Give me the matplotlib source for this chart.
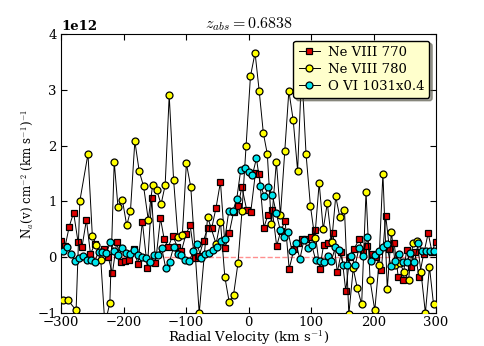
import matplotlib
matplotlib.use("Agg")
import matplotlib.pyplot as plt
import numpy as np

plt.rcParams['font.family'] = ['DejaVu Serif']
plt.rcParams['mathtext.fontset'] = 'cm'

# Ne VIII 770 (units of 1e12)
v_ne770 = [-300, -293.5, -287, -280, -273, -266.5, -259.5, -253, -246, -238.5, -231, -224.5,
           -218, -211, -204.5, -198, -191, -184, -177, -170, -162, -155, -149, -141, -135,
           -128.5, -121.5, -114, -107.5, -100, -93.5, -86, -79, -72, -65.5, -59, -52, -45,
           -37.5, -31, -24, -17, -10.7, -3, 3.5, 11, 17, 24.5, 31, 38, 45, 51.5, 58.5, 65,
           72.5, 79, 85.5, 92.5, 99.5, 106, 114, 120, 127, 135, 142, 148.5, 155.5, 162, 169,
           177, 183, 190, 197, 204, 212.5, 219.5, 225.5, 233, 239.5, 246.5, 253, 259.5, 266,
           273, 280, 287.5, 293.5, 299.5]
n_ne770 = [0.30, 0.20, 0.55, 0.80, 0.28, 0.19, 0.67, 0.06, 0.24, 0.10, 0.15, 0.00,
           -0.29, 0.27, -0.08, -0.06, -0.04, 0.15, -0.12, 0.64, -0.19, 1.07, -0.11, 0.70, 0.32,
           0.18, 0.39, 0.19, 0.11, 0.42, 0.57, -0.02, 0.02, 0.30, 0.53, 0.52, 0.89, 1.35,
           0.17, 0.43, 0.81, 0.91, 1.26, 0.85, 0.81, 1.51, 1.50, 0.53, 0.76, 0.84, 0.20, 0.47, 0.65, -0.21,
           0.14, 0.25, 0.33, 0.33, 0.37, 0.49, -0.21, 0.22, 0.25, 0.43, -0.27, 0.10, -0.60, 0.00, 0.15,
           0.33, 0.11, 0.21, 0.05, 0.00, -0.22, 0.74, 0.15, 0.25, -0.35, -0.41, 0.13, -0.17, 0.10,
           -0.36, 0.05, 0.43, 0.10, 0.28]

# Ne VIII 780
v_ne780 = [-297, -289.5, -276, -270, -257, -250, -243.5, -236.5, -230, -222, -215, -209, -202,
           -195, -189, -182, -175, -168, -160.5, -153.5, -147, -140, -133.5, -127, -120, -113,
           -106, -99.5, -92.5, -79, -65.5, -52, -45, -38, -31, -24, -17, -10.5, -4, 3, 10.4,
           17, 23.7, 30, 36.5, 44.5, 51, 58, 64.5, 71.5, 78.5, 85, 92, 99, 106, 113, 119.5,
           126, 133, 139.5, 146, 153.5, 160.5, 167.5, 174, 181, 188, 194.5, 202, 208.5, 215,
           222, 228.5, 235, 242, 249, 256, 263, 269.5, 276, 283, 289.5, 296]
n_ne780 = [-0.76, -0.76, -0.95, 1.01, 1.85, 0.38, 0.22, -0.05, -1.2, -0.82, 1.71, 0.90, 1.03,
           0.57, 0.83, 2.08, 1.54, 1.27, 0.67, 1.30, 1.20, 0.95, 1.29, 2.90, 1.39, 0.36,
           0.40, 1.68, 1.26, -1.00, 0.72, 0.24, 0.64, -0.35, -0.80, -0.67, -0.11, 0.83, 1.99, 3.24, 3.66,
           2.98, 2.22, 1.85, 0.59, 1.71, 0.75, 1.91, 2.98, 2.45, 1.55, 3.35, 1.85, 0.92, 0.35, 1.33, 0.50,
           0.97, 0.28, 1.09, 0.72, 0.85, -1.02, -0.20, -0.55, -0.84, 1.17, -0.41, -0.95, -0.13, 1.50,
           -0.57, 0.45, -0.13, -0.10, -0.27, -0.40, 0.25, 0.30, -0.27, -1.00, -0.17, -0.84]

# O VI 1031 x 0.4
v_ovi = [-297, -290.7, -284.4, -278.0, -271.7, -265.4, -259.1, -252.8, -246.4, -240.1, -233.8,
         -227.5, -221.2, -214.9, -208.5, -202.2, -195.9, -189.6, -183.3, -176.9, -170.6, -164.3,
         -158.0, -151.7, -145.3, -139.0, -132.7, -126.4, -120.1, -113.7, -107.4, -101.1, -94.8,
         -88.5, -82.2, -75.8, -69.5, -63.2, -56.9, -50.6, -44.2, -37.9, -31.6, -25.3, -19.0,
         -12.6, -6.3, 0.0, 6.3, 12.6, 19.0, 25.3, 31.6, 37.9, 44.2, 50.6, 56.9, 63.2, 69.5,
         75.8, 82.2, 88.5, 94.8, 101.1, 107.4, 113.7, 120.1, 126.4, 132.7, 139.0, 145.3, 151.7,
         158.0, 164.3, 170.6, 176.9, 183.3, 189.6, 195.9, 202.2, 208.5, 214.9, 221.2, 227.5,
         233.8, 240.1, 246.4, 252.8, 259.1, 265.4, 271.7, 278.0, 284.4, 290.7, 297.0]
n_ovi = [0.11, 0.19, 0.06, -0.06, -0.02, 0.03, -0.04, -0.05, -0.08, 0.10, 0.10,
         0.08, 0.27, 0.12, 0.04, 0.16, 0.07, 0.06, 0.13, 0.04, 0.00, -0.02,
         -0.08, 0.04, 0.04, 0.17, -0.19, -0.08, 0.18, 0.05, 0.04, -0.05, -0.07,
         0.11, 0.23, -0.02, 0.05, 0.08, 0.13, 0.18, 0.30, 0.33, 0.83, 0.82, 1.04,
         1.56, 1.59, 1.52, 1.48, 1.77, 1.28, 1.10, 1.25, 1.12, 0.80, 0.49, 0.36, 0.46, 0.11,
         0.25, -0.03, 0.31, 0.16, 0.22, -0.05, -0.06, -0.08, 0.03, -0.06, 0.19, 0.13, -0.13,
         -0.13, 0.03, -0.14, 0.17, 0.03, 0.36, -0.07, 0.04, 0.12, 0.19, 0.23, -0.15,
         -0.07, 0.06, -0.08, -0.08, 0.07, -0.08, 0.26, 0.12, 0.12, 0.12, 0.12]

scale = 1e12

fig = plt.figure(figsize=(4.85, 3.46), dpi=100)
ax = fig.add_axes([0.126, 0.095, 0.773, 0.807])

ax.axhline(0, color='#ff8f8f', ls='--', lw=1.0, zorder=1)

common = dict(color='black', lw=0.7, mec='black', mew=0.9, ms=5.0)
ax.plot(v_ne770, np.array(n_ne770) * scale, marker='s', mfc='#e00000', label='Ne VIII 770', zorder=2, **common)
ax.plot(v_ne780, np.array(n_ne780) * scale, marker='o', mfc='#ffff00', label='Ne VIII 780', zorder=3, **common)
ax.plot(v_ovi, np.array(n_ovi) * scale, marker='o', mfc='#00e5ee', label='O VI 1031x0.4', zorder=4, **common)

ax.set_xlim(-300, 300)
ax.set_ylim(-1e12, 4e12)
ax.set_xticks([-300, -200, -100, 0, 100, 200, 300])
ax.set_yticks(np.array([-1, 0, 1, 2, 3, 4]) * scale)
ax.tick_params(direction='in', top=True, right=True, labelsize=9.5, length=4)
ax.tick_params(axis='x', pad=2)
ax.tick_params(axis='y', pad=3)
off = ax.yaxis.get_offset_text()
off.set_fontsize(9.5)
off.set_fontweight('bold')

ax.set_xlabel(r'Radial Velocity (km s$^{-1}$)', fontsize=9.5, labelpad=0)
ax.set_ylabel(r'N$_a$(v) cm$^{-2}$ (km s$^{-1}$)$^{-1}$', fontsize=8.5, labelpad=1)
ax.set_title(r'$z_{abs}=0.6838$', fontsize=11.5, pad=4)

leg = ax.legend(loc='upper right', fontsize=9.5, fancybox=True, shadow=True,
                borderaxespad=0.5, handlelength=1.6, handletextpad=0.6, labelspacing=0.3,
                borderpad=0.4, framealpha=1)
leg.get_frame().set_facecolor('#ffffcc')
leg.get_frame().set_edgecolor('black')

fig.savefig('out.png', dpi=100)
